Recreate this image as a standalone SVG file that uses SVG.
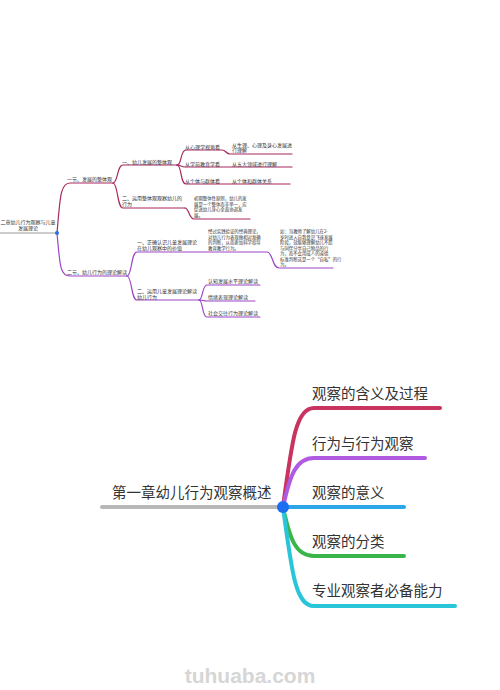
<svg xmlns="http://www.w3.org/2000/svg" width="500" height="690" viewBox="0 0 500 690">
<style>
.s{font-family:"Noto Sans CJK SC","Noto Sans",sans-serif;font-size:5px;fill:#333}
.xs{font-family:"Noto Sans CJK SC","Noto Sans",sans-serif;font-size:4.4px;fill:#333}
.b{font-family:"Noto Sans CJK SC","Noto Sans",sans-serif;font-size:14.5px;fill:#333}
.l{fill:none;stroke-linecap:round;stroke-linejoin:round}
.r1{stroke:#a8285e;stroke-width:1.2}
.p1{stroke:#9b45c8;stroke-width:1.2}
.w{stroke-width:4}
</style>
<rect width="500" height="690" fill="#ffffff"/>
<g id="connectors">
<path class="l" d="M0,233 H57" stroke="#9a9a9a" stroke-width="1.2"/>
<path class="l r1" d="M57,233 C60,200 60,183 70,183 H113"/>
<path class="l r1" d="M113,183 C118,183 117,165 123,165 H177"/>
<path class="l r1" d="M113,183 C118,183 117,208 123,208 H185"/>
<path class="l r1" d="M177,165 C182,165 180,150 186,150 H222 C226,150 226,154 230,154 H292"/>
<path class="l r1" d="M177,165 C181,165 181,167 185,167 H292"/>
<path class="l r1" d="M177,165 C182,165 180,184 186,184 H290"/>
<path class="l r1" d="M185,208 C189,208 189,219 194,219 H250"/>
<path class="l p1" d="M57,233 C60,266 60,276 70,276 H127"/>
<path class="l p1" d="M127,276 C132,276 131,252 137,252 H267 C273,252 272,268 279,268 H333"/>
<path class="l p1" d="M127,276 C132,276 131,300 137,300 H199"/>
<path class="l p1" d="M199,300 C203,300 202,285 207,285 H260"/>
<path class="l p1" d="M199,300 C203,300 203,301 207,301 H255"/>
<path class="l p1" d="M199,300 C203,300 202,317 207,317 H260"/>
<path class="l w" d="M102,507 H283" stroke="#b8b8b8"/>
<path class="l w" d="M283,507 C292,440 296,408 314,408 H440" stroke="#c9335f"/>
<path class="l w" d="M283,507 C290,475 296,458 314,458 H425" stroke="#b05ae2"/>
<path class="l w" d="M283,507 H404" stroke="#2ba6e8"/>
<path class="l w" d="M283,507 C290,540 296,556 314,556 H404" stroke="#3ab54c"/>
<path class="l w" d="M283,507 C292,575 296,606 314,606 H455" stroke="#28c6d8"/>
</g>
<g id="root2">
<text class="s" x="28" y="224" text-anchor="middle">二章幼儿行为观察与儿童</text>
<text class="s" x="28" y="230" text-anchor="middle">发展理论</text>
<circle cx="57" cy="233" r="2" fill="#2a6fe8"/>
</g>
<g id="n-s1"><text class="s" x="67" y="180.5">一节、发展的整体观</text></g>
<g id="n-s2"><text class="s" x="67" y="274">二节、幼儿行为的理论解读</text></g>
<g id="n-a1"><text class="s" x="122" y="163.5">一、幼儿发展的整体观</text></g>
<g id="n-a2"><text class="s" x="122" y="200">二、运用整体观观察幼儿的</text><text class="s" x="122" y="206">行为</text></g>
<g id="n-a11"><text class="s" x="185" y="148.5">从心理学视角看</text></g>
<g id="n-a12"><text class="s" x="185" y="165.5">从学前教育学看</text></g>
<g id="n-a13"><text class="s" x="185" y="182.5">从个体与群体看</text></g>
<g id="n-a111"><text class="s" x="232" y="146.5">从生理、心理及身心发展进</text><text class="s" x="232" y="152.3">行理解</text></g>
<g id="n-a121"><text class="s" x="232" y="165.5">从五大领域进行理解</text></g>
<g id="n-a131"><text class="s" x="232" y="182.5">从个体和群体关系</text></g>
<g id="n-a21">
<text class="xs" x="194" y="200">初期整体性原则，幼儿的发</text>
<text class="xs" x="194" y="205.5">展是一个整体而非单一，应</text>
<text class="xs" x="194" y="211">促进幼儿身心全面协调发</text>
<text class="xs" x="194" y="216.5">展。</text>
</g>
<g id="n-b1"><text class="s" x="137" y="243.5">一、正确认识儿童发展理论</text><text class="s" x="137" y="249.5">在幼儿观察中的价值</text></g>
<g id="n-b11">
<text class="xs" x="208" y="233">经过实践验证的经典理论，</text>
<text class="xs" x="208" y="238.5">对幼儿行为表现做相对准确</text>
<text class="xs" x="208" y="244">的判断，从而更加科学指导</text>
<text class="xs" x="208" y="249.5">教育教学行为。</text>
</g>
<g id="n-b111">
<text class="xs" x="280" y="233">如：当教师了解幼儿在2-</text>
<text class="xs" x="280" y="238.5">岁时进入自我意识飞速发展</text>
<text class="xs" x="280" y="244">阶段，就能够理解幼儿不愿</text>
<text class="xs" x="280" y="249.5">与同伴分享自己物品的行</text>
<text class="xs" x="280" y="255">为，而不会用成人的道德</text>
<text class="xs" x="280" y="260.5">标准判断这是一个“自私”的行</text>
<text class="xs" x="280" y="266">为。</text>
</g>
<g id="n-b2"><text class="s" x="137" y="292.5">二、运用儿童发展理论解读</text><text class="s" x="137" y="298.5">幼儿行为</text></g>
<g id="n-b21"><text class="s" x="208" y="283">认知发展水平理论解读</text></g>
<g id="n-b22"><text class="s" x="208" y="299">情绪表现理论解读</text></g>
<g id="n-b23"><text class="s" x="208" y="315">社会交往行为理论解读</text></g>
<g id="root1"><text class="b" x="112" y="498">第一章幼儿行为观察概述</text></g>
<g id="c1"><text class="b" x="312" y="398.5">观察的含义及过程</text></g>
<g id="c2"><text class="b" x="312" y="448.5">行为与行为观察</text></g>
<g id="c3"><text class="b" x="312" y="498">观察的意义</text></g>
<g id="c4"><text class="b" x="312" y="547">观察的分类</text></g>
<g id="c5"><text class="b" x="312" y="596">专业观察者必备能力</text></g>
<circle id="hub" cx="283" cy="507" r="6" fill="#1c6ff0"/>
<text x="250" y="683" text-anchor="middle" font-family="Liberation Sans, Arial, sans-serif" font-weight="bold" font-size="21" fill="#d6d6d6">tuhuaba.com</text>
</svg>
